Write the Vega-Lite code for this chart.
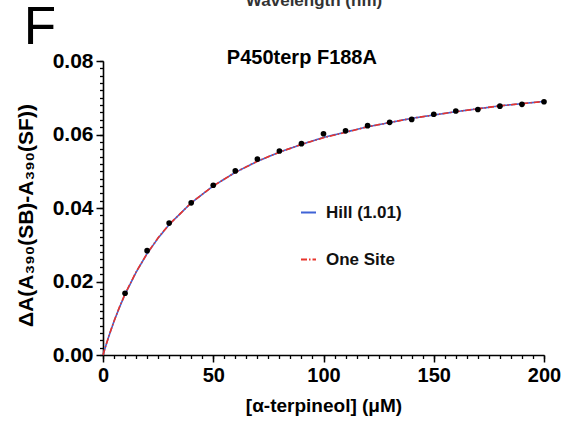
{
  "$schema": "https://vega.github.io/schema/vega-lite/v6.json",
  "width": 441,
  "height": 294,
  "autosize": "none",
  "padding": {"left": 103, "top": 61, "right": 22, "bottom": 70},
  "background": "white",
  "config": {"view": {"stroke": null}, "font": "Liberation Sans"},
  "datasets": {
    "points": [
      {"conc": 10, "dA": 0.0168}, {"conc": 20, "dA": 0.0284}, {"conc": 30, "dA": 0.0359},
      {"conc": 40, "dA": 0.0414}, {"conc": 50, "dA": 0.0462}, {"conc": 60, "dA": 0.0501},
      {"conc": 70, "dA": 0.0533}, {"conc": 80, "dA": 0.0555}, {"conc": 90, "dA": 0.0575},
      {"conc": 100, "dA": 0.0602}, {"conc": 110, "dA": 0.061}, {"conc": 120, "dA": 0.0624},
      {"conc": 130, "dA": 0.0633}, {"conc": 140, "dA": 0.0641}, {"conc": 150, "dA": 0.0655},
      {"conc": 160, "dA": 0.0664}, {"conc": 170, "dA": 0.0668}, {"conc": 180, "dA": 0.0677},
      {"conc": 190, "dA": 0.0682}, {"conc": 200, "dA": 0.0689}
    ],
    "fits": [
      {"model": "Hill (1.01)", "conc": 0, "dA": 0},
      {"model": "Hill (1.01)", "conc": 1, "dA": 0.002},
      {"model": "Hill (1.01)", "conc": 2, "dA": 0.0039},
      {"model": "Hill (1.01)", "conc": 3, "dA": 0.0057},
      {"model": "Hill (1.01)", "conc": 5, "dA": 0.0092},
      {"model": "Hill (1.01)", "conc": 7.5, "dA": 0.013},
      {"model": "Hill (1.01)", "conc": 10, "dA": 0.0165},
      {"model": "Hill (1.01)", "conc": 15, "dA": 0.0225},
      {"model": "Hill (1.01)", "conc": 20, "dA": 0.0276},
      {"model": "Hill (1.01)", "conc": 25, "dA": 0.0318},
      {"model": "Hill (1.01)", "conc": 30, "dA": 0.0355},
      {"model": "Hill (1.01)", "conc": 40, "dA": 0.0414},
      {"model": "Hill (1.01)", "conc": 50, "dA": 0.046},
      {"model": "Hill (1.01)", "conc": 60, "dA": 0.0497},
      {"model": "Hill (1.01)", "conc": 70, "dA": 0.0527},
      {"model": "Hill (1.01)", "conc": 80, "dA": 0.0552},
      {"model": "Hill (1.01)", "conc": 90, "dA": 0.0573},
      {"model": "Hill (1.01)", "conc": 100, "dA": 0.0592},
      {"model": "Hill (1.01)", "conc": 120, "dA": 0.0621},
      {"model": "Hill (1.01)", "conc": 140, "dA": 0.0644},
      {"model": "Hill (1.01)", "conc": 160, "dA": 0.0662},
      {"model": "Hill (1.01)", "conc": 180, "dA": 0.0678},
      {"model": "Hill (1.01)", "conc": 200, "dA": 0.069},
      {"model": "One Site", "conc": 0, "dA": 0},
      {"model": "One Site", "conc": 1, "dA": 0.002},
      {"model": "One Site", "conc": 2, "dA": 0.0039},
      {"model": "One Site", "conc": 3, "dA": 0.0058},
      {"model": "One Site", "conc": 5, "dA": 0.0092},
      {"model": "One Site", "conc": 7.5, "dA": 0.0131},
      {"model": "One Site", "conc": 10, "dA": 0.0166},
      {"model": "One Site", "conc": 15, "dA": 0.0226},
      {"model": "One Site", "conc": 20, "dA": 0.0276},
      {"model": "One Site", "conc": 25, "dA": 0.0319},
      {"model": "One Site", "conc": 30, "dA": 0.0355},
      {"model": "One Site", "conc": 40, "dA": 0.0414},
      {"model": "One Site", "conc": 50, "dA": 0.046},
      {"model": "One Site", "conc": 60, "dA": 0.0497},
      {"model": "One Site", "conc": 70, "dA": 0.0527},
      {"model": "One Site", "conc": 80, "dA": 0.0552},
      {"model": "One Site", "conc": 90, "dA": 0.0573},
      {"model": "One Site", "conc": 100, "dA": 0.0591},
      {"model": "One Site", "conc": 120, "dA": 0.0621},
      {"model": "One Site", "conc": 140, "dA": 0.0644},
      {"model": "One Site", "conc": 160, "dA": 0.0662},
      {"model": "One Site", "conc": 180, "dA": 0.0678},
      {"model": "One Site", "conc": 200, "dA": 0.069}
    ]
  },
  "resolve": {"axis": {"x": "independent", "y": "independent"}},
  "layer": [
    {
      "data": {"name": "fits"},
      "mark": {"type": "line", "strokeWidth": 1.6, "clip": false},
      "encoding": {
        "x": {"field": "conc", "type": "quantitative", "scale": {"domain": [0, 200], "nice": false},
          "axis": {"orient": "bottom", "values": [0, 5, 10, 15, 20, 25, 30, 35, 40, 45, 50, 55, 60, 65, 70, 75, 80, 85, 90, 95, 100, 105, 110, 115, 120, 125, 130, 135, 140, 145, 150, 155, 160, 165, 170, 175, 180, 185, 190, 195, 200], "labels": false, "domain": false, "grid": false, "title": null, "tickSize": 3.5, "tickColor": "#000", "tickWidth": 1.3}},
        "y": {"field": "dA", "type": "quantitative", "scale": {"domain": [0, 0.08], "nice": false},
          "axis": {"orient": "left", "values": [0, 0.002, 0.004, 0.006, 0.008, 0.01, 0.012, 0.014, 0.016, 0.018, 0.02, 0.022, 0.024, 0.026, 0.028, 0.03, 0.032, 0.034, 0.036, 0.038, 0.04, 0.042, 0.044, 0.046, 0.048, 0.05, 0.052, 0.054, 0.056, 0.058, 0.06, 0.062, 0.064, 0.066, 0.068, 0.07, 0.072, 0.074, 0.076, 0.078, 0.08], "labels": false, "domain": false, "grid": false, "title": null, "tickSize": 3.5, "tickColor": "#000", "tickWidth": 1.3}},
        "color": {"field": "model", "type": "nominal", "scale": {"domain": ["Hill (1.01)", "One Site"], "range": ["#3f63d6", "#e8352c"]},
          "legend": {"orient": "none", "legendX": 197, "legendY": 143, "title": null, "symbolType": "stroke", "symbolSize": 225, "symbolStrokeWidth": 2, "labelFontSize": 17, "labelFontWeight": "bold", "labelColor": "#111", "labelOffset": 9, "rowPadding": 29, "labelFont": "Liberation Sans"}},
        "strokeDash": {"field": "model", "type": "nominal", "scale": {"domain": ["Hill (1.01)", "One Site"], "range": [[1, 0], [6, 2, 1.5, 2]]},
          "legend": {"orient": "none", "legendX": 197, "legendY": 143, "title": null, "symbolType": "stroke", "symbolSize": 225, "symbolStrokeWidth": 2, "labelFontSize": 17, "labelFontWeight": "bold", "labelColor": "#111", "labelOffset": 9, "rowPadding": 29, "labelFont": "Liberation Sans"}}
      }
    },
    {
      "data": {"name": "points"},
      "mark": {"type": "circle", "size": 32, "color": "#000", "opacity": 1, "clip": false},
      "encoding": {
        "x": {"field": "conc", "type": "quantitative", "scale": {"domain": [0, 200], "nice": false},
          "axis": {"orient": "bottom", "values": [0, 50, 100, 150, 200], "grid": false, "title": "[α-terpineol] (μM)", "titleFontSize": 19, "titleFontWeight": "bold", "titleColor": "#000", "titlePadding": 11, "labelFontSize": 20, "labelFontWeight": "bold", "labelColor": "#000", "labelPadding": 3, "tickSize": 7, "tickWidth": 1.5, "tickColor": "#000", "domainColor": "#000", "domainWidth": 1.6, "labelFlush": false}},
        "y": {"field": "dA", "type": "quantitative", "scale": {"domain": [0, 0.08], "nice": false},
          "axis": {"orient": "left", "values": [0, 0.02, 0.04, 0.06, 0.08], "format": ".2f", "grid": false, "title": "ΔA(A₃₉₀(SB)-A₃₉₀(SF))", "titleFontSize": 21, "titleFontWeight": "bold", "titleColor": "#000", "titlePadding": 16, "titleY": 154, "labelFontSize": 21, "labelFontWeight": "bold", "labelColor": "#000", "labelPadding": 3, "tickSize": 7, "tickWidth": 1.5, "tickColor": "#000", "domainColor": "#000", "domainWidth": 1.6}}
      }
    },
    {
      "data": {"values": [{"conc": -28.6, "dA": 0.0891, "label": "F"}]},
      "mark": {"type": "text", "clip": false, "font": "Liberation Sans", "fontSize": 53, "color": "#000", "baseline": "middle"},
      "encoding": {
        "x": {"field": "conc", "type": "quantitative", "axis": null},
        "y": {"field": "dA", "type": "quantitative", "axis": null},
        "text": {"field": "label"}
      }
    },
    {
      "data": {"values": [{"conc": 95.7, "dA": 0.0963, "label": "Wavelength (nm)"}]},
      "mark": {"type": "text", "clip": false, "font": "Liberation Sans", "fontSize": 17, "fontWeight": "bold", "color": "#333", "baseline": "middle"},
      "encoding": {
        "x": {"field": "conc", "type": "quantitative", "axis": null},
        "y": {"field": "dA", "type": "quantitative", "axis": null},
        "text": {"field": "label"}
      }
    },
    {
      "data": {"values": [{"conc": 90.2, "dA": 0.0807, "label": "P450terp F188A"}]},
      "mark": {"type": "text", "clip": false, "font": "Liberation Sans", "fontSize": 20, "fontWeight": "bold", "color": "#000", "baseline": "middle"},
      "encoding": {
        "x": {"field": "conc", "type": "quantitative", "axis": null},
        "y": {"field": "dA", "type": "quantitative", "axis": null},
        "text": {"field": "label"}
      }
    }
  ]
}
